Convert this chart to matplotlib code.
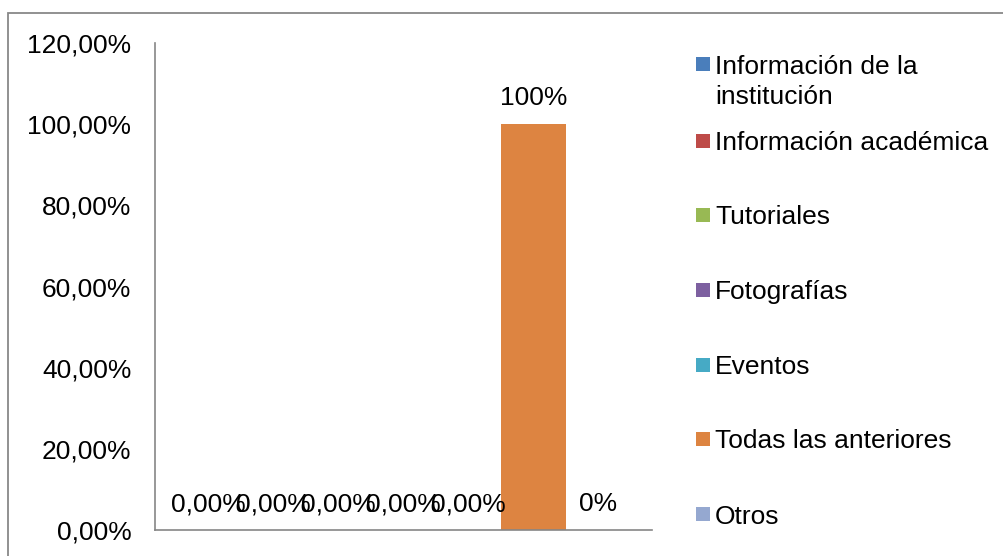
import matplotlib.pyplot as plt
from matplotlib.patches import Rectangle
from matplotlib.ticker import FuncFormatter

plt.rcParams['font.family'] = ['Liberation Sans', 'DejaVu Sans']

series = ["Información de la\ninstitución", "Información académica", "Tutoriales",
          "Fotografías", "Eventos", "Todas las anteriores", "Otros"]
values = [0.0, 0.0, 0.0, 0.0, 0.0, 100.0, 0.0]
value_labels = ["0,00%", "0,00%", "0,00%", "0,00%", "0,00%", "100%", "0%"]
colors = ["#4A7EBB", "#BE4B48", "#98B954", "#7D60A0", "#46AAC5", "#DD8441", "#95A8D0"]
y_ticks = [0, 20, 40, 60, 80, 100, 120]

FS = 19
W, H = 1004, 556
fig = plt.figure(figsize=(W / 100, H / 100), dpi=100)
ax = fig.add_axes([155 / W, 1 - 530 / H, 497 / W, 487 / H])

xs = list(range(len(values)))
ax.bar(xs, values, width=1.0, color=colors, zorder=2)

for x, v, lab in zip(xs, values, value_labels):
    ax.annotate(lab, xy=(x, v), xytext=(0, 18.5), textcoords="offset points",
                ha="center", va="center", fontsize=FS, color="#000000")

ax.set_xlim(-0.823, len(values) - 1 + 0.823)
ax.set_ylim(0, 120)
ax.set_yticks(y_ticks)
ax.yaxis.set_major_formatter(FuncFormatter(lambda v, p: f"{v:.2f}".replace(".", ",") + "%"))
ax.tick_params(axis="y", length=0, pad=17, labelsize=FS)
ax.set_xticks([])

for side in ["top", "right"]:
    ax.spines[side].set_visible(False)
for side in ["left", "bottom"]:
    ax.spines[side].set_color("#868686")
    ax.spines[side].set_linewidth(1.2)

# outer chart frame
fig.add_artist(Rectangle((8 / W, -0.1), 1.2, 1.1 - 13 / H, transform=fig.transFigure,
                         fill=False, edgecolor="#888888", linewidth=1.3))

# legend on the right
row_y = [64, 140.5, 215, 290, 364.5, 439, 514]
line_step = 31
for name, c, yc in zip(series, colors, row_y):
    fig.add_artist(Rectangle((696 / W, 1 - (yc + 7) / H), 14 / W, 14 / H,
                             transform=fig.transFigure, facecolor=c, edgecolor="none"))
    for k, line in enumerate(name.split("\n")):
        fig.text(715 / W, 1 - (yc + k * line_step) / H, line, fontsize=FS,
                 ha="left", va="center_baseline")

fig.savefig("out.png", dpi=100)
